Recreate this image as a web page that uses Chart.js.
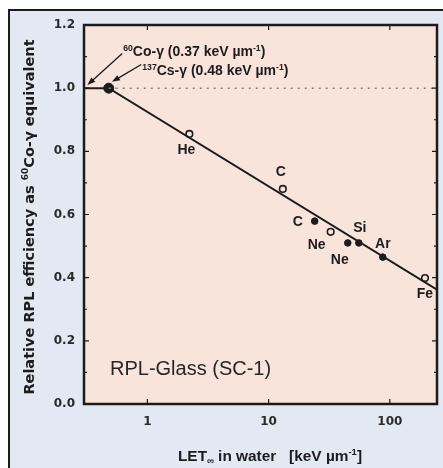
<!DOCTYPE html>
<html>
<head>
<meta charset="utf-8">
<script src="https://cdn.jsdelivr.net/npm/chart.js@4.4.1/dist/chart.umd.min.js"></script>
<style>
  html, body { margin: 0; padding: 0; background: #fff; }
  canvas { display: block; }
</style>
</head>
<body>
<canvas id="rplChart" width="443" height="468"></canvas>
<script>
/* === DATA === */
// open circles
const openLet = [2.22, 13.1, 32.5, 195];
const openEff = [0.855, 0.681, 0.545, 0.399];
const openIons = ["He", "C", "Ne", "Fe"];

// filled circles
const filledLet = [24, 45, 55.5, 87.5];
const filledEff = [0.579, 0.510, 0.510, 0.465];
const filledIons = ["C", "Ne", "Si", "Ar"];

// 137Cs reference point
const csLet = [0.48];
const csEff = [1.0];

// fitted line
const fitLet = [0.3, 0.48, 245];
const fitEff = [1.0, 1.0, 0.362];

// dotted 1.0 reference
const refLet = [0.48, 245];
const refEff = [1.0, 1.0];

const xTicks = [1, 10, 100];
const yTicks = [0, 0.2, 0.4, 0.6, 0.8, 1.0, 1.2];
const yMinorTicks = [0.1, 0.3, 0.5, 0.7, 0.9, 1.1];

// label offsets in px (dx, dy) from each point
const openLabelOffsets = [[-3, 16], [-2, -17], [-14, 13], [0, 16]];
const filledLabelOffsets = [[-17, 1], [-8, 17], [1, -15], [0, -13]];

// arrows: [from LET, from eff, to LET, to eff]
const coArrow = [0.62, 1.11, 0.32, 1.01];
const csArrow = [0.89, 1.075, 0.51, 1.02];

const INK = "#1c1c1c";
const FONT = "'Liberation Sans', Arial, sans-serif";

/* === HELPERS === */
function toPoints(xs, ys) {
    return xs.map((x, i) => ({ x: x, y: ys[i] }));
}

// parts: [text, shift] shift 1 = superscript, -1 = subscript
function drawRich(ctx, parts, x, y, size, weight, family, align) {
    const fontFor = (s) => `${weight} ${s}px ${family}`;
    let total = 0;
    parts.forEach(([t, sh]) => {
        ctx.font = fontFor(sh ? size * 0.62 : size);
        total += ctx.measureText(t).width;
    });
    let cx = align === "center" ? x - total / 2 : x;
    ctx.textAlign = "left";
    ctx.textBaseline = "alphabetic";
    parts.forEach(([t, sh]) => {
        const s = sh ? size * 0.62 : size;
        ctx.font = fontFor(s);
        const dy = sh > 0 ? -size * 0.4 : (sh < 0 ? size * 0.22 : 0);
        ctx.fillText(t, cx, y + dy);
        cx += ctx.measureText(t).width;
    });
}

function drawArrow(ctx, x1, y1, x2, y2) {
    const ang = Math.atan2(y2 - y1, x2 - x1);
    const len = 8, half = 3;
    ctx.beginPath();
    ctx.moveTo(x1, y1);
    ctx.lineTo(x2 - Math.cos(ang) * len * 0.8, y2 - Math.sin(ang) * len * 0.8);
    ctx.stroke();
    ctx.beginPath();
    ctx.moveTo(x2, y2);
    ctx.lineTo(x2 - Math.cos(ang) * len - Math.sin(ang) * half, y2 - Math.sin(ang) * len + Math.cos(ang) * half);
    ctx.lineTo(x2 - Math.cos(ang) * len + Math.sin(ang) * half, y2 - Math.sin(ang) * len - Math.cos(ang) * half);
    ctx.closePath();
    ctx.fill();
}

/* === PLUGIN: backgrounds, frame, inward ticks, labels === */
const figureDecor = {
    id: "figureDecor",
    beforeDraw(chart) {
        const { ctx, chartArea: a, width, height } = chart;
        ctx.save();
        ctx.fillStyle = "#ffffff";
        ctx.fillRect(0, 0, width, height);
        ctx.fillStyle = "#e3e9f2";
        ctx.fillRect(8, 9, width - 8, height - 9);
        ctx.strokeStyle = INK;
        ctx.lineWidth = 2;
        ctx.beginPath();
        ctx.moveTo(9, height);
        ctx.lineTo(9, 10);
        ctx.lineTo(width, 10);
        ctx.stroke();
        ctx.fillStyle = "#f8e4db";
        ctx.fillRect(a.left, a.top, a.right - a.left, a.bottom - a.top);
        ctx.restore();
    },
    afterDraw(chart) {
        const { ctx, chartArea: a } = chart;
        const xs = chart.scales.x, ys = chart.scales.y;
        ctx.save();

        // frame
        ctx.strokeStyle = INK;
        ctx.lineWidth = 2.5;
        ctx.strokeRect(a.left, a.top, a.right - a.left, a.bottom - a.top);

        // inward ticks
        ctx.lineWidth = 1.2;
        ctx.beginPath();
        yTicks.concat(yMinorTicks).forEach(v => {
            const py = ys.getPixelForValue(v);
            const len = yMinorTicks.includes(v) ? 3 : 5;
            ctx.moveTo(a.left, py); ctx.lineTo(a.left + len, py);
            ctx.moveTo(a.right, py); ctx.lineTo(a.right - len, py);
        });
        xTicks.forEach(v => {
            const px = xs.getPixelForValue(v);
            ctx.moveTo(px, a.bottom); ctx.lineTo(px, a.bottom - 5);
            ctx.moveTo(px, a.top); ctx.lineTo(px, a.top + 5);
        });
        ctx.stroke();

        // ion labels
        ctx.fillStyle = INK;
        ctx.font = `bold 14px ${FONT}`;
        ctx.textAlign = "center";
        ctx.textBaseline = "middle";
        chart.getDatasetMeta(2).data.forEach((pt, i) => {
            const [dx, dy] = openLabelOffsets[i];
            ctx.fillText(openIons[i], pt.x + dx, pt.y + dy);
        });
        chart.getDatasetMeta(3).data.forEach((pt, i) => {
            const [dx, dy] = filledLabelOffsets[i];
            ctx.fillText(filledIons[i], pt.x + dx, pt.y + dy);
        });

        // arrows + source annotations
        ctx.strokeStyle = INK;
        ctx.lineWidth = 1.3;
        const px = v => xs.getPixelForValue(v);
        const py = v => ys.getPixelForValue(v);
        drawArrow(ctx, px(coArrow[0]), py(coArrow[1]), px(coArrow[2]), py(coArrow[3]));
        drawArrow(ctx, px(csArrow[0]), py(csArrow[1]), px(csArrow[2]), py(csArrow[3]));

        drawRich(ctx, [["60", 1], ["Co-\u03b3 (0.37 keV \u00b5m", 0], ["-1", 1], [")", 0]],
            px(coArrow[0]) + 1, py(coArrow[1]) + 3, 14, "bold", FONT, "left");
        drawRich(ctx, [["137", 1], ["Cs-\u03b3 (0.48 keV \u00b5m", 0], ["-1", 1], [")", 0]],
            px(csArrow[0]) + 1, py(csArrow[1]) + 11, 14, "bold", FONT, "left");

        // in-plot title
        ctx.font = `20px ${FONT}`;
        ctx.textAlign = "left";
        ctx.textBaseline = "alphabetic";
        ctx.fillStyle = "#262626";
        ctx.fillText("RPL-Glass (SC-1)", a.left + 26, a.bottom - 29);

        // axis titles
        ctx.fillStyle = INK;
        drawRich(ctx, [["LET", 0], ["\u221e", -1], [" in water   [keV \u00b5m", 0], ["-1", 1], ["]", 0]],
            270, 461, 15.4, "bold", FONT, "center");

        ctx.translate(34, 217);
        ctx.rotate(-Math.PI / 2);
        drawRich(ctx, [["Relative RPL efficiency as ", 0], ["60", 1], ["Co-\u03b3 equivalent", 0]],
            0, 0, 14.5, "bold", "'DejaVu Sans', sans-serif", "center");

        ctx.restore();
    }
};

/* === CHART === */
const ctx = document.getElementById("rplChart");
new Chart(ctx, {
    type: "scatter",
    data: {
        datasets: [
            {
                label: "reference",
                data: toPoints(refLet, refEff),
                showLine: true,
                borderColor: "#8a8078",
                borderWidth: 1.5,
                borderDash: [2, 5],
                pointRadius: 0
            },
            {
                label: "fit",
                data: toPoints(fitLet, fitEff),
                showLine: true,
                borderColor: INK,
                borderWidth: 2,
                pointRadius: 0
            },
            {
                label: "open",
                data: toPoints(openLet, openEff),
                pointRadius: 3.3,
                pointBackgroundColor: "#f8e4db",
                pointBorderColor: INK,
                pointBorderWidth: 1.6
            },
            {
                label: "filled",
                data: toPoints(filledLet, filledEff),
                pointRadius: 3.3,
                pointBackgroundColor: INK,
                pointBorderColor: INK,
                pointBorderWidth: 1
            },
            {
                label: "Cs-137",
                data: toPoints(csLet, csEff),
                pointRadius: 5,
                pointBackgroundColor: INK,
                pointBorderColor: INK,
                pointBorderWidth: 1
            }
        ]
    },
    options: {
        responsive: false,
        animation: false,
        devicePixelRatio: 1,
        layout: { padding: { left: 9, top: 25, right: 6, bottom: 8 } },
        plugins: {
            legend: { display: false },
            tooltip: { enabled: false }
        },
        scales: {
            x: {
                type: "logarithmic",
                min: 0.3,
                max: 245,
                grid: { display: false, drawTicks: false },
                border: { display: false },
                afterBuildTicks: (scale) => {
                    scale.ticks = xTicks.map(v => ({ value: v }));
                },
                afterFit: (scale) => { scale.height = 56; },
                ticks: {
                    autoSkip: false,
                    maxRotation: 0,
                    padding: 11,
                    color: "#2a2a2a",
                    font: { family: "'DejaVu Sans', sans-serif", size: 12, weight: "bold" },
                    callback: (v) => String(v)
                }
            },
            y: {
                min: 0,
                max: 1.2,
                grid: { display: false, drawTicks: false },
                border: { display: false },
                afterBuildTicks: (scale) => {
                    scale.ticks = yTicks.map(v => ({ value: v }));
                },
                afterFit: (scale) => { scale.width = 75; },
                ticks: {
                    padding: 9,
                    color: "#2a2a2a",
                    font: { family: "'DejaVu Sans', sans-serif", size: 12, weight: "bold" },
                    callback: (v) => Number(v).toFixed(1)
                }
            }
        }
    },
    plugins: [figureDecor]
});
</script>
</body>
</html>
